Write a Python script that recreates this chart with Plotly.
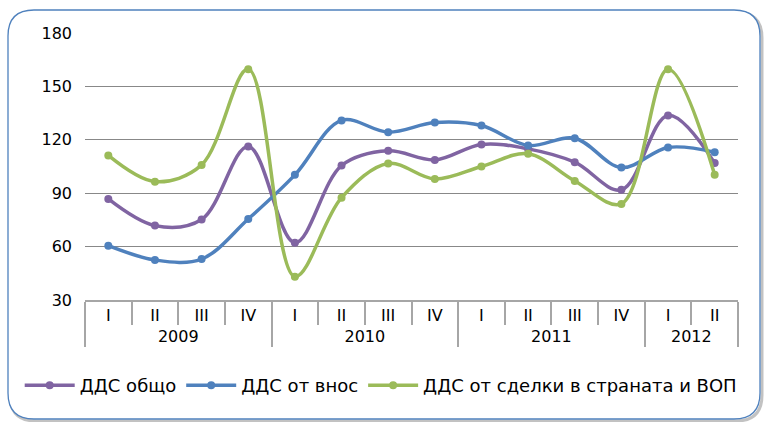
import plotly.graph_objects as go

years = ['2009'] * 4 + ['2010'] * 4 + ['2011'] * 4 + ['2012'] * 2
quarters = ['I', 'II', 'III', 'IV', 'I', 'II', 'III', 'IV', 'I', 'II', 'III', 'IV', 'I', 'II']

vat_total = [86.8, 71.8, 75.2, 116.3, 62.2, 105.5, 113.8, 108.7, 117.4, 114.9, 107.4, 91.9, 133.7, 106.9]
vat_import = [60.5, 52.5, 53.0, 75.5, 100.3, 130.9, 124.3, 129.7, 128.0, 116.8, 120.9, 104.4, 115.7, 113.0]
vat_domestic = [111.2, 96.5, 105.9, 159.7, 43.1, 87.5, 106.7, 98.0, 105.0, 112.1, 96.9, 84.0, 159.7, 100.3]

series = [
    ('ДДС общо', vat_total, '#8064A2'),
    ('ДДС от внос', vat_import, '#4F81BD'),
    ('ДДС от сделки в страната и ВОП', vat_domestic, '#9BBB59'),
]

W, H = 764, 422
L, R, T, B = 85, 26, 33, 122
pw, ph = W - L - R, H - T - B

def px(x):
    return (x - L) / pw

def py(y):
    return (H - B - y) / ph

fig = go.Figure()
for name, vals, col in series:
    fig.add_trace(go.Scatter(
        x=[years, quarters], y=vals, name=name, mode='lines+markers',
        line=dict(color=col, width=3.5, shape='spline', smoothing=1.0),
        marker=dict(color=col, size=8),
    ))

def rounded(x0, y0, x1, y1, r):
    p = []
    p.append(f"M {px(x0 + r)} {py(y0)}")
    p.append(f"L {px(x1 - r)} {py(y0)}")
    p.append(f"Q {px(x1)} {py(y0)} {px(x1)} {py(y0 + r)}")
    p.append(f"L {px(x1)} {py(y1 - r)}")
    p.append(f"Q {px(x1)} {py(y1)} {px(x1 - r)} {py(y1)}")
    p.append(f"L {px(x0 + r)} {py(y1)}")
    p.append(f"Q {px(x0)} {py(y1)} {px(x0)} {py(y1 - r)}")
    p.append(f"L {px(x0)} {py(y0 + r)}")
    p.append(f"Q {px(x0)} {py(y0)} {px(x0 + r)} {py(y0)}")
    p.append("Z")
    return " ".join(p)

fig.add_shape(type='path', xref='paper', yref='paper', path=rounded(10, 12, 762, 421, 26),
              line=dict(color='rgba(120,120,120,0.45)', width=3), layer='below')
fig.add_shape(type='path', xref='paper', yref='paper', path=rounded(8, 10, 760, 419, 26),
              line=dict(color='#4F81BD', width=1.3), fillcolor='white', layer='below')

font = 'DejaVu Sans, Verdana, sans-serif'
fig.update_layout(
    width=W, height=H,
    margin=dict(l=L, r=R, t=T, b=B),
    paper_bgcolor='white', plot_bgcolor='rgba(0,0,0,0)',
    font=dict(family=font, size=16, color='#000000'),
    showlegend=True,
    legend=dict(orientation='h', x=-0.1, xanchor='left', y=-0.32, yanchor='middle',
                font=dict(size=18), itemwidth=50, tracegroupgap=0,
                bgcolor='rgba(0,0,0,0)'),
    xaxis=dict(type='multicategory', range=[-0.5, 13.5], autorange=False,
               showline=True, linecolor='#A6A6A6', linewidth=2,
               ticks='outside', ticklen=23, tickcolor='#A6A6A6', tickwidth=2,
               showdividers=True, dividercolor='#A6A6A6', dividerwidth=2,
               showgrid=False, tickfont=dict(size=16)),
    yaxis=dict(range=[30, 180], dtick=30, showgrid=True, gridcolor='#888888', gridwidth=1,
               zeroline=False, showline=False, ticks='', ticklabelstandoff=12,
               tickfont=dict(size=16)),
)

fig.write_html('out.html', config={'displayModeBar': False},
               post_script="document.body.style.margin='0';document.body.style.overflow='hidden';")
